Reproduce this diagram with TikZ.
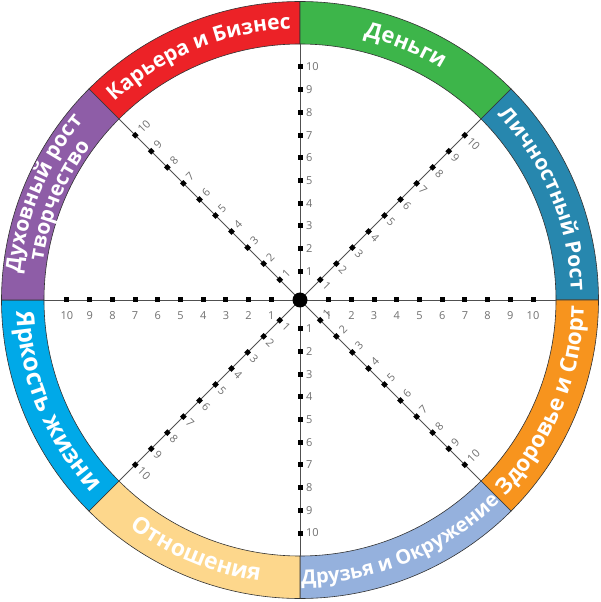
\documentclass[tikz,border=0pt]{standalone}
\usepackage{fontspec}
\setmainfont{Open Sans}
\newfontfamily\ringfont{Open Sans}
\usetikzlibrary{decorations.text}
\definecolor{cRed}{HTML}{EC2227}
\definecolor{cGreen}{HTML}{3DB54A}
\definecolor{cTeal}{HTML}{2787AE}
\definecolor{cOrange}{HTML}{F7941E}
\definecolor{cLav}{HTML}{95B1DD}
\definecolor{cSand}{HTML}{FDD78C}
\definecolor{cBlue}{HTML}{00A9E8}
\definecolor{cPurple}{HTML}{8E5DA7}
\definecolor{numgray}{HTML}{707070}
\definecolor{spokegray}{HTML}{505050}
\newcommand\ringlabel[5]{% radius, start, end, size, text
  \path[decorate, decoration={text along path, text align=center, text color=white,
    text={|\ringfont\bfseries\fontsize{#4}{#4}\selectfont|#5}}]
    (#2:#1) arc[start angle=#2, end angle=#3, radius=#1];}
\begin{document}
\begin{tikzpicture}[x=1pt,y=1pt,
  sector/.style={draw=black!80, line width=0.6pt},
  spoke/.style={draw=spokegray, line width=0.9pt},
  sqmark/.style={fill=black, minimum size=5pt, inner sep=0pt, outer sep=0pt},
  dmmark/.style={fill=black, minimum size=4.8pt, inner sep=0pt, outer sep=0pt, rotate=45},
  num/.style={font=\fontsize{11}{11}\selectfont, text=numgray, inner sep=0pt},
  hub/.style={circle, fill=black, minimum size=15pt, inner sep=0pt}]
\useasboundingbox (-300,-302) rectangle (300,300);
\def\Ro{298.5}\def\Ri{256}
% ring sectors
\foreach \a/\c in {90/cRed, 45/cGreen, 0/cTeal, -45/cOrange, -90/cLav, -135/cSand, 180/cBlue, 135/cPurple}{
  \pgfmathsetmacro\b{\a+45}
  \filldraw[sector, fill=\c] (\a:\Ri) -- (\a:\Ro) arc[start angle=\a, end angle=\b, radius=\Ro]
     -- (\b:\Ri) arc[start angle=\b, end angle=\a, radius=\Ri] -- cycle;
}
% ring labels
\ringlabel{271}{135}{90}{21}{Карьера и Бизнес}
\ringlabel{271}{90}{45}{22}{Деньги}
\ringlabel{271}{45}{0}{21}{Личностный Рост}
\ringlabel{284}{-45}{0}{22.5}{Здоровье и Спорт}
\ringlabel{284}{-90}{-45}{20}{Друзья и Окружение}
\ringlabel{284}{-135}{-90}{23}{Отношения}
\ringlabel{284}{180}{225}{25}{Яркость жизни}
\ringlabel{281}{180}{135}{21}{Духовный рост}
\ringlabel{260}{180}{135}{21}{творчество}
% spokes
\coordinate (o) at (0,0);
\foreach \t in {0,45,...,315}{
  \coordinate (e\t) at (\t:\Ri);
  \draw[spoke] (o) -- (e\t);
}
% markers and numbers
\foreach \k in {1,...,10}{
  \pgfmathsetmacro\d{6+22.7*\k}
  \foreach \t in {0,90,180,270}{\node[sqmark] (m\t-\k) at (\t:\d) {};}
  \foreach \t in {45,135,225,315}{\node[dmmark] (m\t-\k) at (\t:\d) {};}
  \node[num] (n0-\k) at (\d,-16) {\k};
  \node[num] (n180-\k) at (-\d,-16) {\k};
  \node[num, anchor=west] (n90-\k) at (6,\d) {\k};
  \node[num, anchor=west] (n270-\k) at (6,-\d) {\k};
  \node[num, anchor=west, rotate=-45] (n45-\k) at ([shift={(-45:6)}]45:\d) {\k};
  \node[num, anchor=west, rotate=45] (n135-\k) at ([shift={(45:6)}]135:\d) {\k};
  \node[num, anchor=west, rotate=-45] (n225-\k) at ([shift={(-45:6)}]225:\d) {\k};
  \node[num, anchor=west, rotate=45] (n315-\k) at ([shift={(45:6)}]315:\d) {\k};
}
\node[hub] (c) at (o) {};
\end{tikzpicture}
\end{document}
